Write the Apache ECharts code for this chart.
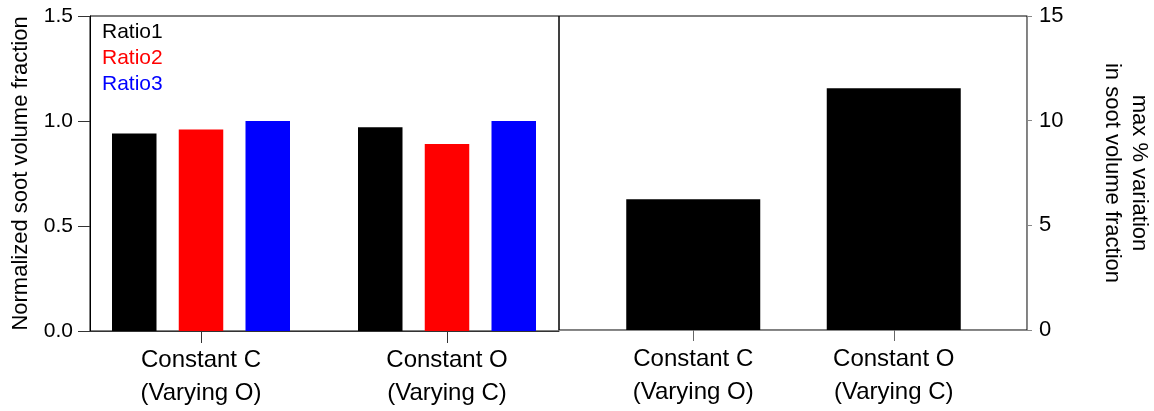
<!DOCTYPE html>
<html><head><meta charset="utf-8">
<script src="https://cdn.jsdelivr.net/npm/echarts@6/dist/echarts.min.js"></script>
<style>html,body{margin:0;padding:0;background:#fff}#c{width:1154px;height:411px}</style>
</head><body><div id="c"></div>
<script>
const categories = ['Constant C\n(Varying O)', 'Constant O\n(Varying C)'];
const ratioNames = ['Ratio1', 'Ratio2', 'Ratio3'];
const ratio1 = [0.94, 0.97];
const ratio2 = [0.96, 0.89];
const ratio3 = [1.0, 1.0];
const maxVariation = [6.25, 11.55];
const leftAxisName = 'Normalized soot volume fraction';
const rightAxisName = 'max % variation\nin soot volume fraction';

const FONT = '"Liberation Sans", Arial, Helvetica, sans-serif';
const colors = ['#000000', '#ff0000', '#0000ff'];
const ratioData = [ratio1, ratio2, ratio3];

const chart = echarts.init(document.getElementById('c'), null, {renderer: 'canvas'});
const catLabel = {fontSize: 24, lineHeight: 33, color: '#000', margin: 13, fontFamily: FONT};

chart.setOption({
  animation: false,
  backgroundColor: '#fff',
  textStyle: {fontFamily: FONT},
  legend: {
    data: ratioNames.map((n, i) => ({name: n, textStyle: {color: colors[i]}})),
    orient: 'vertical', left: 97, top: 22, padding: 0, itemGap: 5,
    itemWidth: 0, itemHeight: 0, icon: 'none', selectedMode: false,
    textStyle: {fontSize: 21, fontFamily: FONT}
  },
  grid: [
    {left: 90, top: 16, width: 469, height: 315, show: true, borderColor: '#000', borderWidth: 1},
    {left: 78, top: 16, width: 492, height: 315},
    {left: 559, top: 16, width: 470, height: 314, show: true, borderColor: '#000', borderWidth: 1},
    {left: 593, top: 16, width: 401, height: 314}
  ],
  xAxis: [
    {gridIndex: 0, type: 'category', data: categories, axisLine: {show: true, lineStyle: {color: '#333'}},
     axisTick: {show: false}, axisLabel: {show: false}, splitLine: {show: false}},
    {gridIndex: 1, type: 'category', data: categories, axisLine: {show: false},
     axisTick: {show: true, alignWithLabel: true, length: 12, lineStyle: {color: '#333'}},
     axisLabel: catLabel, splitLine: {show: false}},
    {gridIndex: 2, type: 'category', data: categories, axisLine: {show: true, lineStyle: {color: '#888'}},
     axisTick: {show: false}, axisLabel: {show: false}, splitLine: {show: false}},
    {gridIndex: 3, type: 'category', data: categories, axisLine: {show: false},
     axisTick: {show: true, alignWithLabel: true, length: 11, lineStyle: {color: '#666'}},
     axisLabel: catLabel, splitLine: {show: false}}
  ],
  yAxis: [
    {gridIndex: 0, type: 'value', min: 0, max: 1.5, interval: 0.5,
     axisLine: {show: true, lineStyle: {color: '#000'}},
     axisTick: {show: true, length: 12, lineStyle: {color: '#333'}},
     axisLabel: {fontSize: 21, color: '#000', margin: 17, fontFamily: FONT, formatter: v => v.toFixed(1)},
     splitLine: {show: false},
     name: leftAxisName, nameLocation: 'middle', nameGap: 58,
     nameTextStyle: {fontSize: 22, color: '#000', fontFamily: FONT}},
    {gridIndex: 1, type: 'value', min: 0, max: 1.5, show: false},
    {gridIndex: 2, type: 'value', position: 'right', min: 0, max: 15, interval: 5,
     axisLine: {show: true, lineStyle: {color: '#888'}},
     axisTick: {show: true, length: 5, lineStyle: {color: '#888'}},
     axisLabel: {fontSize: 22, color: '#000', margin: 12, fontFamily: FONT},
     splitLine: {show: false},
     name: rightAxisName, nameLocation: 'middle', nameRotate: -90, nameGap: 72,
     nameTextStyle: {fontSize: 22, lineHeight: 27, color: '#000', fontFamily: FONT, align: 'center'}},
    {gridIndex: 3, type: 'value', min: 0, max: 15, show: false}
  ],
  series: ratioData.map((d, i) => ({
    name: ratioNames[i], type: 'bar', xAxisIndex: 1, yAxisIndex: 1, data: d,
    barWidth: 44.5, barGap: '50%', itemStyle: {color: colors[i]}
  })).concat([{
    name: 'max variation', type: 'bar', xAxisIndex: 3, yAxisIndex: 3, data: maxVariation,
    barWidth: 134, itemStyle: {color: '#000'}
  }])
});
</script>
</body></html>
